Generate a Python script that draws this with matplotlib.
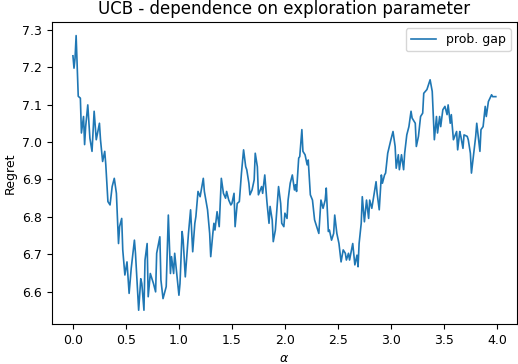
import matplotlib
matplotlib.use("Agg")
import matplotlib.pyplot as plt

# exploration parameter values and regret
alpha = [0.00, 0.01, 0.02, 0.03, 0.05, 0.07, 0.08, 0.10, 0.11, 0.12,
         0.14, 0.16, 0.18, 0.20, 0.22, 0.25, 0.26, 0.28, 0.30, 0.31,
         0.33, 0.35, 0.37, 0.39, 0.41, 0.43, 0.44, 0.46, 0.47, 0.49,
         0.51, 0.53, 0.55, 0.58, 0.59, 0.61, 0.62, 0.64, 0.65, 0.67,
         0.68, 0.70, 0.71, 0.73, 0.76, 0.78, 0.79, 0.82, 0.83, 0.85,
         0.88, 0.90, 0.92, 0.93, 0.95, 0.96, 1.00, 1.01, 1.03, 1.04,
         1.06, 1.09, 1.11, 1.13, 1.15, 1.16, 1.18, 1.20, 1.23, 1.24,
         1.26, 1.27, 1.29, 1.30, 1.32, 1.33, 1.34, 1.36, 1.38, 1.40,
         1.42, 1.44, 1.45, 1.47, 1.49, 1.50, 1.52, 1.53, 1.55, 1.57,
         1.59, 1.61, 1.63, 1.64, 1.66, 1.67, 1.69, 1.71, 1.72, 1.74,
         1.75, 1.78, 1.79, 1.81, 1.83, 1.85, 1.86, 1.88, 1.89, 1.91,
         1.93, 1.94, 1.96, 1.97, 1.99, 2.00, 2.02, 2.03, 2.05, 2.07,
         2.09, 2.10, 2.11, 2.13, 2.14, 2.16, 2.17, 2.19, 2.21, 2.22,
         2.24, 2.26, 2.28, 2.30, 2.32, 2.34, 2.36, 2.38, 2.39, 2.41,
         2.42, 2.44, 2.46, 2.47, 2.49, 2.51, 2.53, 2.55, 2.57, 2.58,
         2.60, 2.61, 2.64, 2.66, 2.68, 2.69, 2.70, 2.72, 2.73, 2.75,
         2.77, 2.79, 2.80, 2.82, 2.84, 2.86, 2.87, 2.89, 2.91, 2.92,
         2.94, 2.95, 2.97, 3.00, 3.02, 3.04, 3.05, 3.07, 3.08, 3.10,
         3.12, 3.13, 3.15, 3.17, 3.19, 3.20, 3.23, 3.24, 3.26, 3.28,
         3.30, 3.31, 3.34, 3.36, 3.37, 3.39, 3.41, 3.43, 3.44, 3.46,
         3.47, 3.49, 3.51, 3.53, 3.54, 3.56, 3.57, 3.59, 3.62, 3.63,
         3.65, 3.66, 3.68, 3.69, 3.72, 3.73, 3.75, 3.76, 3.78, 3.80,
         3.81, 3.84, 3.85, 3.87, 3.89, 3.90, 3.92, 3.95, 3.96, 3.99]

regret = [7.230, 7.197, 7.224, 7.284, 7.122, 7.117, 7.024, 7.068, 6.993, 7.041,
          7.099, 7.010, 6.975, 7.082, 7.006, 7.050, 7.006, 6.948, 6.975, 6.939,
          6.841, 6.832, 6.881, 6.903, 6.863, 6.729, 6.774, 6.796, 6.712, 6.645,
          6.680, 6.596, 6.663, 6.738, 6.703, 6.605, 6.551, 6.635, 6.622, 6.551,
          6.685, 6.729, 6.587, 6.649, 6.622, 6.600, 6.703, 6.747, 6.632, 6.582,
          6.614, 6.805, 6.649, 6.694, 6.649, 6.703, 6.591, 6.622, 6.761, 6.738,
          6.640, 6.756, 6.819, 6.707, 6.783, 6.801, 6.868, 6.854, 6.903, 6.868,
          6.836, 6.819, 6.756, 6.694, 6.756, 6.783, 6.765, 6.814, 6.774, 6.903,
          6.863, 6.850, 6.868, 6.845, 6.832, 6.836, 6.863, 6.774, 6.836, 6.841,
          6.917, 6.979, 6.934, 6.926, 6.890, 6.859, 6.872, 6.899, 6.970, 6.934,
          6.859, 6.881, 6.863, 6.912, 6.841, 6.783, 6.828, 6.792, 6.734, 6.765,
          6.845, 6.881, 6.836, 6.783, 6.774, 6.810, 6.796, 6.845, 6.890, 6.912,
          6.872, 6.886, 6.868, 6.957, 6.961, 7.033, 6.975, 6.966, 6.939, 6.952,
          6.859, 6.845, 6.792, 6.774, 6.756, 6.845, 6.823, 6.845, 6.877, 6.761,
          6.765, 6.738, 6.756, 6.805, 6.756, 6.729, 6.680, 6.712, 6.703, 6.685,
          6.703, 6.685, 6.729, 6.672, 6.698, 6.667, 6.729, 6.783, 6.854, 6.787,
          6.845, 6.796, 6.845, 6.823, 6.859, 6.894, 6.863, 6.819, 6.912, 6.890,
          6.912, 6.917, 6.970, 7.006, 7.028, 6.988, 6.930, 6.966, 6.926, 6.966,
          6.926, 6.970, 7.019, 7.041, 7.082, 7.064, 7.050, 6.988, 7.015, 7.068,
          7.077, 7.130, 7.140, 7.157, 7.166, 7.135, 7.006, 7.068, 7.024, 7.068,
          7.041, 7.086, 7.095, 7.073, 7.099, 7.050, 7.073, 7.006, 7.028, 6.979,
          7.028, 7.015, 6.983, 7.019, 7.015, 7.006, 6.970, 6.917, 6.966, 7.015,
          7.050, 6.975, 7.033, 7.041, 7.095, 7.068, 7.108, 7.126, 7.121, 7.121]

fig, ax = plt.subplots(figsize=(5.18, 3.64), dpi=100)
fig.subplots_adjust(left=0.100, right=0.998, bottom=0.110, top=0.940)

ax.plot(alpha, regret, color="#1f77b4", linewidth=1.2, label="prob. gap")

ax.set_title("UCB - dependence on exploration parameter", fontsize=12)
ax.set_xlabel(r"$\alpha$", fontsize=9)
ax.set_ylabel("Regret", fontsize=9)
ax.tick_params(labelsize=9)
ax.set_xticks([0.0, 0.5, 1.0, 1.5, 2.0, 2.5, 3.0, 3.5, 4.0])
ax.legend(loc="upper right", fontsize=9)

plt.savefig("out.png")
